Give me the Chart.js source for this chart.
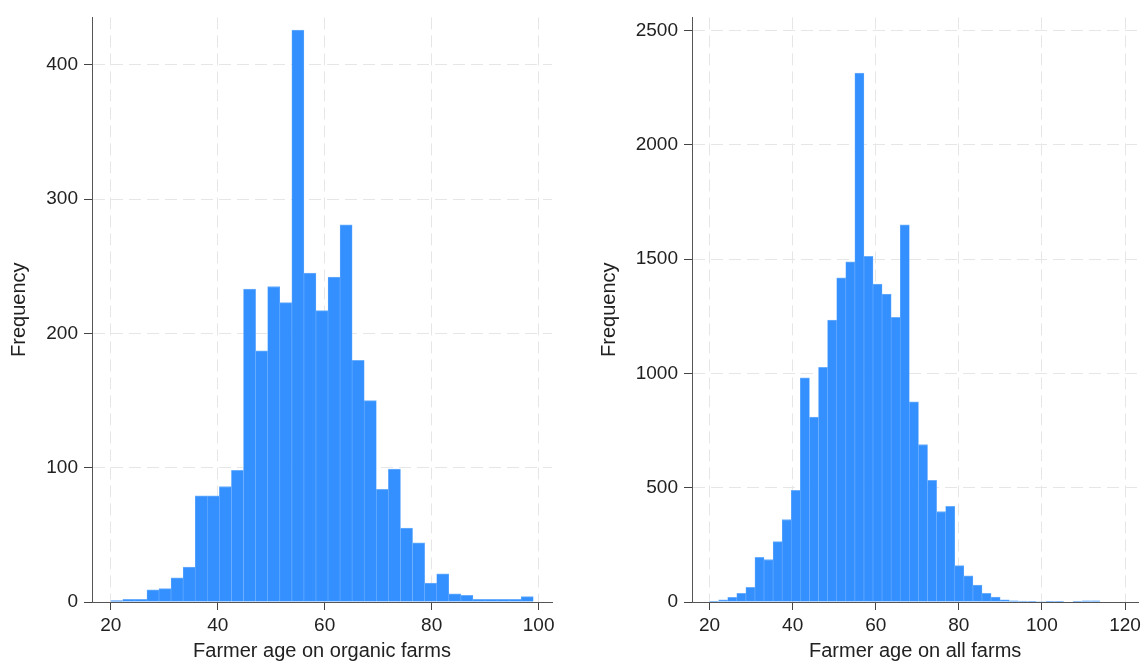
<!DOCTYPE html>
<html>
<head>
<meta charset="utf-8">
<script src="https://cdn.jsdelivr.net/npm/chart.js@4/dist/chart.umd.min.js"></script>
<style>
  body { margin: 0; background: #fff; }
  #wrap { position: relative; width: 1145px; height: 664px; }
  canvas { position: absolute; top: 0; }
</style>
</head>
<body>
<div id="wrap">
  <canvas id="organicChart" width="570" height="664" style="left:0px"></canvas>
  <canvas id="allChart" width="555" height="664" style="left:590px"></canvas>
</div>
<script>
// organic farms: bin centres (35 bins of ~2.26 years from age 20) and counts
const organicBins = [21.13, 23.39, 25.64, 27.90, 30.16, 32.41, 34.67, 36.93, 39.19, 41.44,
  43.70, 45.96, 48.21, 50.47, 52.73, 54.99, 57.24, 59.50, 61.76, 64.01,
  66.27, 68.53, 70.79, 73.04, 75.30, 77.56, 79.81, 82.07, 84.33, 86.59,
  88.84, 91.10, 93.36, 95.61, 97.87];
const organicCounts = [1, 2, 2, 9, 10, 18, 26, 79, 79, 86,
  98, 233, 187, 235, 223, 426, 245, 217, 242, 281,
  180, 150, 84, 99, 55, 44, 14, 21, 6, 5,
  2, 2, 2, 2, 4];

// all farms: bin centres (43 bins of ~2.19 years from age 20) and counts
const allBins = [21.09, 23.28, 25.47, 27.65, 29.84, 32.02, 34.21, 36.40, 38.58, 40.77,
  42.95, 45.14, 47.33, 49.51, 51.70, 53.88, 56.07, 58.26, 60.44, 62.63,
  64.81, 67.00, 69.19, 71.37, 73.56, 75.74, 77.93, 80.12, 82.30, 84.49,
  86.67, 88.86, 91.05, 93.23, 95.42, 97.61, 99.79, 101.98, 104.16, 106.35,
  108.54, 110.72, 112.91];
const allCounts = [3, 9, 20, 38, 64, 195, 186, 264, 361, 488,
  980, 809, 1026, 1233, 1418, 1488, 2314, 1512, 1391, 1347,
  1245, 1650, 875, 689, 532, 396, 418, 159, 114, 74,
  38, 22, 10, 5, 4, 3, 2, 1, 1, 0,
  1, 5, 5];

const organicXTicks = [20, 40, 60, 80, 100];
const organicYTicks = [0, 100, 200, 300, 400];
const allXTicks = [20, 40, 60, 80, 100, 120];
const allYTicks = [0, 500, 1000, 1500, 2000, 2500];

Chart.defaults.font.family = '"Liberation Sans", Arial, sans-serif';
Chart.defaults.font.size = 19;
Chart.defaults.color = "#222";

function drawHistogram(id, bins, counts, xTicks, yTicks, opts) {
  const ctx = document.getElementById(id).getContext("2d");
  return new Chart(ctx, {
    type: "bar",
    data: {
      datasets: [{
        data: bins.map((b, i) => ({ x: b, y: counts[i] })),
        backgroundColor: "#3590ff",
        borderColor: "#6aaeff",
        borderWidth: { top: 1, left: 0.6, right: 0.6, bottom: 0 },
        borderSkipped: false,
        barPercentage: 1,
        categoryPercentage: 1
      }]
    },
    options: {
      responsive: false,
      animation: false,
      layout: { padding: { top: 17, right: opts.padRight, left: 0, bottom: 0 } },
      plugins: { legend: { display: false }, tooltip: { enabled: false } },
      scales: {
        x: {
          type: "linear",
          min: opts.xMin,
          max: opts.xMax,
          offset: false,
          afterBuildTicks: s => { s.ticks = xTicks.map(v => ({ value: v })); },
          afterFit: s => { s.height = 62; },
          ticks: { padding: 4, maxRotation: 0, callback: v => String(v) },
          grid: {
            offset: false,
            color: "#e6e6e6",
            tickColor: "#444",
            tickLength: 8,
            tickBorderDash: []
          },
          border: { color: "#555", width: 1, dash: [12, 6] },
          title: { display: true, text: opts.xTitle, font: { size: 20 }, padding: { top: 0, bottom: 1 } }
        },
        y: {
          min: 0,
          max: opts.yMax,
          afterBuildTicks: s => { s.ticks = yTicks.map(v => ({ value: v })); },
          afterFit: s => { s.width = opts.yWidth; },
          ticks: { padding: 6, callback: v => String(v) },
          grid: {
            color: "#e6e6e6",
            tickColor: "#444",
            tickLength: 8,
            tickBorderDash: []
          },
          border: { color: "#555", width: 1, dash: [12, 6] },
          title: { display: true, text: "Frequency", font: { size: 20 }, padding: { top: 7, bottom: 0 } }
        }
      }
    }
  });
}

drawHistogram("organicChart", organicBins, organicCounts, organicXTicks, organicYTicks, {
  xMin: 16.5, xMax: 102.5, yMax: 435.4, yWidth: 92, padRight: 18,
  xTitle: "Farmer age on organic farms"
});

drawHistogram("allChart", allBins, allCounts, allXTicks, allYTicks, {
  xMin: 15.78, xMax: 123.2, yMax: 2557, yWidth: 102, padRight: 5,
  xTitle: "Farmer age on all farms"
});
</script>
</body>
</html>
